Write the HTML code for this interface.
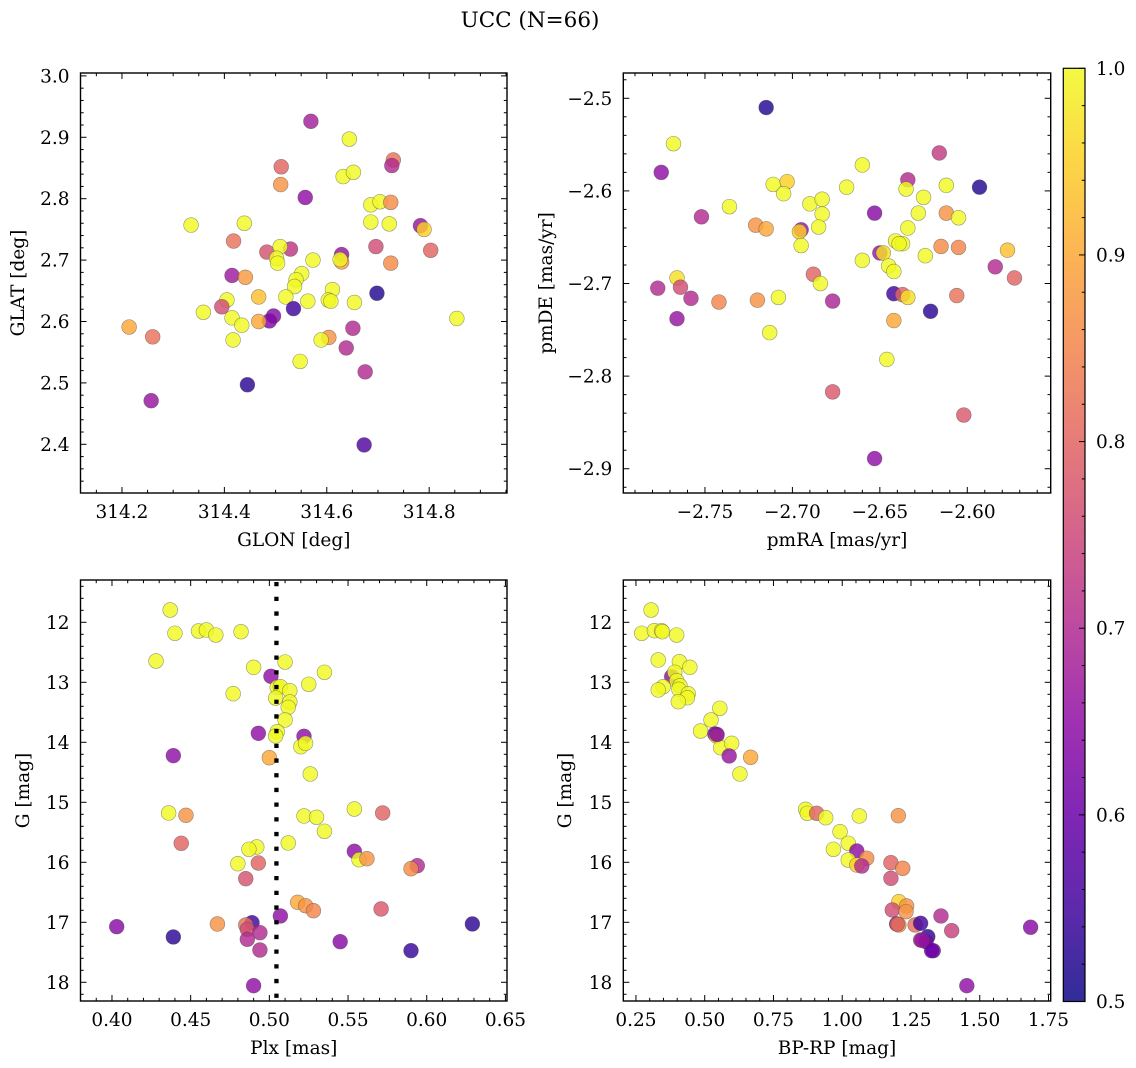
<!DOCTYPE html>
<html><head><meta charset="utf-8"><title>UCC (N=66)</title>
<style>
html,body{margin:0;padding:0;background:#fff;}
svg{display:block;font-family:"DejaVu Serif","Liberation Serif",serif;}
</style></head>
<body>
<svg id="fig" width="1136" height="1068" viewBox="0 0 1136 1068" xmlns="http://www.w3.org/2000/svg">
<defs>
<linearGradient id="cbgrad" x1="0" y1="1" x2="0" y2="0">
<stop offset="0" stop-color="#0d0887"/><stop offset="0.1" stop-color="#41049d"/><stop offset="0.2" stop-color="#6a00a8"/><stop offset="0.3" stop-color="#8f0da4"/><stop offset="0.4" stop-color="#b12a90"/><stop offset="0.5" stop-color="#cc4778"/><stop offset="0.6" stop-color="#e16462"/><stop offset="0.7" stop-color="#f2844b"/><stop offset="0.8" stop-color="#fca636"/><stop offset="0.9" stop-color="#fcce25"/><stop offset="1" stop-color="#f0f921"/>
</linearGradient>
</defs>
<text x="530" y="27" font-size="21.5" text-anchor="middle">UCC (N=66)</text>
</svg>
<script>
// ---- data arrays ----
const glon = [314.569,314.644,314.730,314.727,314.511,314.510,314.558,314.632,314.652,314.686,314.704,314.725,314.686,314.722,314.783,314.790,314.803,314.696,314.725,314.335,314.439,314.418,314.483,314.529,314.509,314.502,314.504,314.629,314.629,314.626,314.573,314.415,314.441,314.551,314.540,314.537,314.698,314.467,314.520,314.611,314.603,314.608,314.563,314.654,314.405,314.395,314.359,314.535,314.496,314.488,314.467,314.415,314.434,314.214,314.260,314.417,314.604,314.589,314.651,314.638,314.548,314.675,314.854,314.445,314.257,314.673];
const glat = [2.926,2.897,2.863,2.854,2.852,2.823,2.802,2.836,2.843,2.790,2.795,2.794,2.762,2.759,2.756,2.750,2.716,2.722,2.695,2.757,2.760,2.731,2.713,2.718,2.722,2.703,2.695,2.709,2.697,2.701,2.700,2.675,2.672,2.678,2.668,2.657,2.646,2.640,2.640,2.652,2.635,2.633,2.633,2.631,2.635,2.624,2.615,2.621,2.609,2.601,2.600,2.606,2.594,2.591,2.575,2.570,2.574,2.570,2.589,2.557,2.535,2.518,2.605,2.497,2.471,2.399];
const probA = [0.68,1,0.82,0.70,0.80,0.87,0.65,1,1,1,1,0.86,1,1,0.66,0.95,0.80,0.76,0.86,1,1,0.82,0.77,0.72,1,1,1,0.66,0.88,1,1,0.67,0.88,1,1,1,0.52,0.93,1,1,1,1,1,1,1,0.76,1,0.55,0.64,0.63,0.90,1,1,0.90,0.82,1,0.87,1,0.70,0.70,1,0.70,1,0.53,0.66,0.57];

const pmra = [-2.715,-2.768,-2.775,-2.616,-2.634,-2.635,-2.612,-2.593,-2.660,-2.669,-2.711,-2.703,-2.705,-2.736,-2.752,-2.690,-2.683,-2.683,-2.685,-2.721,-2.715,-2.695,-2.696,-2.695,-2.653,-2.625,-2.628,-2.612,-2.605,-2.634,-2.641,-2.637,-2.639,-2.615,-2.605,-2.577,-2.624,-2.660,-2.650,-2.648,-2.645,-2.642,-2.584,-2.573,-2.688,-2.684,-2.766,-2.764,-2.777,-2.758,-2.766,-2.742,-2.720,-2.708,-2.677,-2.642,-2.637,-2.634,-2.606,-2.621,-2.713,-2.642,-2.646,-2.677,-2.602,-2.653];
const pmde = [-2.510,-2.549,-2.580,-2.559,-2.588,-2.598,-2.594,-2.596,-2.572,-2.596,-2.593,-2.590,-2.603,-2.617,-2.628,-2.614,-2.609,-2.625,-2.639,-2.637,-2.641,-2.642,-2.644,-2.659,-2.624,-2.607,-2.624,-2.624,-2.629,-2.640,-2.654,-2.657,-2.657,-2.660,-2.661,-2.664,-2.670,-2.675,-2.667,-2.667,-2.681,-2.687,-2.682,-2.694,-2.690,-2.700,-2.694,-2.704,-2.705,-2.716,-2.738,-2.720,-2.718,-2.715,-2.719,-2.711,-2.712,-2.715,-2.713,-2.730,-2.753,-2.740,-2.782,-2.817,-2.842,-2.889];
const probB = [0.52,1,0.65,0.73,0.70,1,1,0.52,1,1,1,0.95,1,1,0.70,1,1,1,1,0.87,0.90,0.66,0.95,1,0.64,1,1,0.87,1,1,1,1,1,0.86,0.85,0.93,1,1,0.66,0.97,1,1,0.70,0.80,0.80,1,0.97,0.76,0.70,0.70,0.66,0.85,0.87,1,0.69,0.55,0.80,0.97,0.82,0.53,1,0.90,1,0.78,0.78,0.65];

const plx = [0.437,0.440,0.455,0.460,0.466,0.482,0.428,0.490,0.510,0.535,0.501,0.505,0.507,0.513,0.525,0.477,0.504,0.513,0.512,0.510,0.493,0.505,0.504,0.522,0.520,0.523,0.439,0.500,0.526,0.436,0.447,0.554,0.572,0.522,0.530,0.535,0.444,0.512,0.492,0.487,0.480,0.493,0.485,0.554,0.557,0.562,0.594,0.590,0.518,0.523,0.528,0.571,0.507,0.403,0.467,0.489,0.485,0.486,0.494,0.486,0.439,0.545,0.494,0.590,0.629,0.490];
const gmagC = [11.795,12.183,12.145,12.128,12.212,12.157,12.645,12.750,12.662,12.833,12.900,13.083,13.073,13.140,13.033,13.190,13.262,13.328,13.417,13.628,13.850,13.823,13.895,13.900,14.073,14.017,14.223,14.257,14.528,15.178,15.217,15.112,15.178,15.228,15.250,15.483,15.683,15.678,15.745,15.783,16.023,16.012,16.273,15.817,15.957,15.940,16.057,16.107,16.667,16.723,16.807,16.778,16.895,17.073,17.028,17.007,17.045,17.117,17.173,17.283,17.245,17.323,17.462,17.473,17.028,18.057];
const probC = [1,1,1,1,1,1,1,1,1,1,0.65,1,1,1,1,1,1,1,1,1,0.65,1,1,0.65,1,1,0.65,0.90,1,1,0.87,1,0.80,1,1,1,0.80,1,1,1,1,0.80,0.77,0.65,1,0.87,0.70,0.86,0.90,0.87,0.85,0.78,0.65,0.64,0.87,0.55,0.82,0.76,0.70,0.70,0.53,0.64,0.70,0.54,0.53,0.65];

const bprp = [0.305,0.271,0.317,0.343,0.346,0.398,0.331,0.408,0.446,0.380,0.391,0.398,0.410,0.349,0.331,0.406,0.440,0.437,0.404,0.555,0.523,0.485,0.537,0.543,0.558,0.598,0.589,0.667,0.628,0.867,0.873,0.907,0.940,1.062,1.204,0.992,0.968,1.022,1.053,1.089,1.022,1.053,1.071,1.177,1.220,1.177,1.206,1.234,1.182,1.232,1.198,1.206,1.265,1.285,1.311,1.285,1.305,1.331,1.325,1.359,1.398,1.685,1.453,0.545,1.200,1.290];
const gmagD = [11.795,12.183,12.140,12.140,12.157,12.212,12.628,12.657,12.750,12.905,12.833,12.973,13.057,13.073,13.128,13.117,13.190,13.257,13.323,13.433,13.628,13.812,13.862,13.895,14.090,14.017,14.228,14.250,14.528,15.117,15.183,15.183,15.257,15.228,15.223,15.490,15.783,15.683,15.812,15.933,15.962,16.045,16.062,16.007,16.100,16.267,16.657,16.728,16.795,16.823,17.028,17.045,17.045,17.017,17.240,17.295,17.323,17.473,17.473,16.895,17.140,17.083,18.057,13.870,17.030,17.300];
const probD = [1,1,1,1,1,1,1,1,1,0.65,1,1,1,1,1,1,1,1,1,1,1,1,0.62,0.93,1,1,0.66,0.90,1,1,1,0.80,1,1,0.87,1,1,1,0.65,0.86,1,0.95,0.70,0.80,0.85,0.76,0.95,0.87,0.76,0.87,0.55,0.87,0.82,0.55,0.53,0.70,0.62,0.62,0.60,0.70,0.74,0.64,0.65,0.64,0.80,0.66];

const plxMedian = 0.5045;
const cbTicks = [0.5,0.6,0.7,0.8,0.9,1.0];
const cbLabels = ["0.5","0.6","0.7","0.8","0.9","1.0"];
const p1XTicks = [314.2,314.4,314.6,314.8];
const p1XLabels = ["314.2","314.4","314.6","314.8"];
const p1YTicks = [2.4,2.5,2.6,2.7,2.8,2.9,3.0];
const p1YLabels = ["2.4","2.5","2.6","2.7","2.8","2.9","3.0"];
const p2XTicks = [-2.75,-2.70,-2.65,-2.60];
const p2XLabels = ["\u22122.75","\u22122.70","\u22122.65","\u22122.60"];
const p2YTicks = [-2.9,-2.8,-2.7,-2.6,-2.5];
const p2YLabels = ["\u22122.9","\u22122.8","\u22122.7","\u22122.6","\u22122.5"];
const p3XTicks = [0.40,0.45,0.50,0.55,0.60,0.65];
const p3XLabels = ["0.40","0.45","0.50","0.55","0.60","0.65"];
const gTicks = [12,13,14,15,16,17,18];
const gLabels = ["12","13","14","15","16","17","18"];
const p4XTicks = [0.25,0.50,0.75,1.00,1.25,1.50,1.75];
const p4XLabels = ["0.25","0.50","0.75","1.00","1.25","1.50","1.75"];

// ---- rendering ----
const NS = "http://www.w3.org/2000/svg";
const svg = document.getElementById('fig');
const FS = 18.5;
function mk(tag, attrs, parent){
  const e = document.createElementNS(NS, tag);
  for (const k in attrs) e.setAttribute(k, attrs[k]);
  (parent||svg).appendChild(e);
  return e;
}
const stops = [[13,8,135],[65,4,157],[106,0,168],[143,13,164],[177,42,144],[204,71,120],[225,100,98],[242,132,75],[252,166,54],[252,206,37],[240,249,33]];
function cmap(v){
  let t = (v-0.5)/0.5; t = Math.max(0, Math.min(1, t));
  const f = t*10, i = Math.min(9, Math.floor(f)), r = f-i;
  const a = stops[i], b = stops[i+1];
  return 'rgb(' + [0,1,2].map(k => Math.round(a[k]+(b[k]-a[k])*r)).join(',') + ')';
}

function panel(cfg){
  const g = mk('g', {});
  
  
  const sx = v => cfg.px0 + (v-cfg.xd[0])/(cfg.xd[1]-cfg.xd[0])*(cfg.px1-cfg.px0);
  const sy = cfg.invert
    ? v => cfg.py0 + (v-cfg.yd[0])/(cfg.yd[1]-cfg.yd[0])*(cfg.py1-cfg.py0)
    : v => cfg.py1 - (v-cfg.yd[0])/(cfg.yd[1]-cfg.yd[0])*(cfg.py1-cfg.py0);
  const pg = mk('g', {}, g);
  
  
  for (let i=0;i<cfg.x.length;i++){
    const c = mk('circle', {cx:sx(cfg.x[i]).toFixed(2), cy:sy(cfg.y[i]).toFixed(2), r:7.4, fill:cmap(cfg.c[i]), 'fill-opacity':0.82, stroke:'rgba(70,70,70,0.55)', 'stroke-width':0.6}, pg);
    
    
  }
  if (cfg.vline !== undefined){
    const l = mk('line', {x1:sx(cfg.vline), x2:sx(cfg.vline), y1:cfg.py0+2, y2:cfg.py1, stroke:'#000', 'stroke-width':4.3, 'stroke-dasharray':'4.3 10.4'}, g);
    
    
  }
  const fr = mk('rect', {x:cfg.px0, y:cfg.py0, width:cfg.px1-cfg.px0, height:cfg.py1-cfg.py0, fill:'none', stroke:'#000', 'stroke-width':1.4}, g);
  
  
  const xg = mk('g', {}, g);
  
  
  const nMinX = Math.ceil(cfg.xd[0]/cfg.xminor - 1e-6), mMinX = Math.floor(cfg.xd[1]/cfg.xminor + 1e-6);
  for (let k=nMinX;k<=mMinX;k++){
    const v = k*cfg.xminor, x = sx(v);
    const major = cfg.xt.some(t => Math.abs(t-v) < cfg.xminor*0.2);
    const L = major ? 6 : 3.2;
    mk('line', {x1:x, x2:x, y1:cfg.py1, y2:cfg.py1-L, stroke:'#000', 'stroke-width':1}, xg);
    mk('line', {x1:x, x2:x, y1:cfg.py0, y2:cfg.py0+L, stroke:'#000', 'stroke-width':1}, xg);
  }
  cfg.xt.forEach((t,i) => {
    const x = sx(t);
    if (x < cfg.px0-30 || x > cfg.px1+30) return;
    const tx = mk('text', {x:x, y:cfg.py1+25, 'font-size':FS, 'text-anchor':'middle'}, xg);
    
    
    tx.textContent = cfg.xl[i];
  });
  const xt = mk('text', {x:(cfg.px0+cfg.px1)/2, y:cfg.py1+53, 'font-size':FS, 'text-anchor':'middle'}, xg);
  
  
  xt.textContent = cfg.xlabel;
  const yg = mk('g', {}, g);
  
  
  const nMinY = Math.ceil(cfg.yd[0]/cfg.yminor - 1e-6), mMinY = Math.floor(cfg.yd[1]/cfg.yminor + 1e-6);
  for (let k=nMinY;k<=mMinY;k++){
    const v = k*cfg.yminor, y = sy(v);
    const major = cfg.yt.some(t => Math.abs(t-v) < cfg.yminor*0.2);
    const L = major ? 6 : 3.2;
    mk('line', {x1:cfg.px0, x2:cfg.px0+L, y1:y, y2:y, stroke:'#000', 'stroke-width':1}, yg);
    mk('line', {x1:cfg.px1, x2:cfg.px1-L, y1:y, y2:y, stroke:'#000', 'stroke-width':1}, yg);
  }
  cfg.yt.forEach((t,i) => {
    const ty = mk('text', {x:cfg.px0-11, y:sy(t)+6.5, 'font-size':FS, 'text-anchor':'end'}, yg);
    
    
    ty.textContent = cfg.yl[i];
  });
  const cy = (cfg.py0+cfg.py1)/2;
  const yt = mk('text', {x:0, y:0, 'font-size':FS, 'text-anchor':'middle', transform:'translate(' + cfg.ylx + ',' + cy + ') rotate(-90)'}, yg);
  
  
  yt.textContent = cfg.ylabel;
}

panel({name:'glon-glat-panel', px0:80.5, px1:507, py0:73, py1:493, xd:[314.119,314.952], yd:[2.3207,3.0047],
  x:glon, y:glat, c:probA, xt:p1XTicks, xl:p1XLabels, yt:p1YTicks, yl:p1YLabels, xminor:0.05, yminor:0.02,
  xlabel:'GLON [deg]', ylabel:'GLAT [deg]', ylx:24});
panel({name:'pm-panel', px0:623.3, px1:1050.7, py0:73, py1:493, xd:[-2.7967,-2.5523], yd:[-2.9262,-2.4727],
  x:pmra, y:pmde, c:probB, xt:p2XTicks, xl:p2XLabels, yt:p2YTicks, yl:p2YLabels, xminor:0.01, yminor:0.02,
  xlabel:'pmRA [mas/yr]', ylabel:'pmDE [mas/yr]', ylx:552});
panel({name:'plx-g-panel', px0:80.5, px1:507, py0:580, py1:1001, xd:[0.380,0.651], yd:[11.295,18.312], invert:true,
  x:plx, y:gmagC, c:probC, xt:p3XTicks, xl:p3XLabels, yt:gTicks, yl:gLabels, xminor:0.01, yminor:0.2,
  xlabel:'Plx [mas]', ylabel:'G [mag]', ylx:29, vline:plxMedian});
panel({name:'cmd-panel', px0:623.3, px1:1050.7, py0:580, py1:1001, xd:[0.204,1.758], yd:[11.295,18.312], invert:true,
  x:bprp, y:gmagD, c:probD, xt:p4XTicks, xl:p4XLabels, yt:gTicks, yl:gLabels, xminor:0.05, yminor:0.2,
  xlabel:'BP-RP [mag]', ylabel:'G [mag]', ylx:571});

const cb = mk('g', {});


const cbx0 = 1063.3, cbx1 = 1085, cby0 = 68.3, cby1 = 1001.5;
const cv = v => cby1 - (v-0.5)/0.5*(cby1-cby0);
mk('rect', {x:cbx0, y:cby0, width:cbx1-cbx0, height:cby1-cby0, fill:'url(#cbgrad)', 'fill-opacity':0.85, stroke:'#000', 'stroke-width':1.2}, cb);
for (let k=25;k<=50;k++){
  const v = k*0.02, y = cv(v);
  const major = Math.abs(v*10 - Math.round(v*10)) < 1e-6;
  mk('line', {x1:cbx1, x2:cbx1-(major?6:3.2), y1:y, y2:y, stroke:'#000', 'stroke-width':1}, cb);
}
cbTicks.forEach((t,i) => {
  const tx = mk('text', {x:1096, y:cv(t)+6.5, 'font-size':FS}, cb);
  
  
  tx.textContent = cbLabels[i];
});
</script>
</body></html>
